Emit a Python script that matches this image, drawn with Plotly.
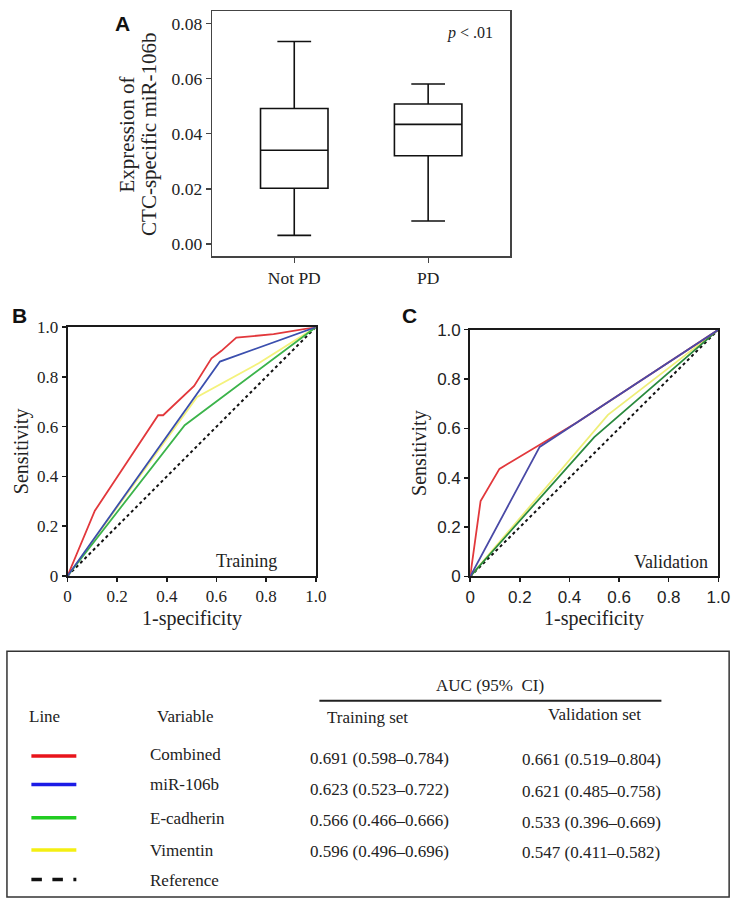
import plotly.graph_objects as go

# ---------------- data ----------------
box_categories = ["Not PD", "PD"]
box_lower = [0.0031, 0.0083]
box_q1 = [0.0202, 0.0320]
box_median = [0.0340, 0.0434]
box_q3 = [0.0492, 0.0508]
box_upper = [0.0735, 0.0581]
box_yticks = [0.00, 0.02, 0.04, 0.06, 0.08]

roc_ticks = [0, 0.2, 0.4, 0.6, 0.8, 1.0]
roc_ticktext = ["0", "0.2", "0.4", "0.6", "0.8", "1.0"]

train_combined_x = [0, 0.105, 0.11, 0.365, 0.385, 0.51, 0.58, 0.62, 0.68, 0.83, 1.0]
train_combined_y = [0, 0.243, 0.262, 0.646, 0.646, 0.764, 0.875, 0.905, 0.958, 0.972, 1.0]
train_mir_x = [0, 0.614, 1.0]
train_mir_y = [0, 0.862, 1.0]
train_ecad_x = [0, 0.472, 1.0]
train_ecad_y = [0, 0.606, 1.0]
train_vim_x = [0, 0.522, 0.77, 1.0]
train_vim_y = [0, 0.72, 0.855, 1.0]

val_combined_x = [0, 0.042, 0.118, 0.43, 1.0]
val_combined_y = [0, 0.306, 0.436, 0.624, 1.0]
val_mir_x = [0, 0.28, 1.0]
val_mir_y = [0, 0.525, 1.0]
val_ecad_x = [0, 0.5, 1.0]
val_ecad_y = [0, 0.565, 1.0]
val_vim_x = [0, 0.475, 0.555, 1.0]
val_vim_y = [0, 0.56, 0.655, 1.0]

ref_x = [0, 1]
ref_y = [0, 1]

table_variables = ["Combined", "miR-106b", "E-cadherin", "Vimentin", "Reference"]
table_training = ["0.691 (0.598\u20130.784)", "0.623 (0.523\u20130.722)",
                  "0.566 (0.466\u20130.666)", "0.596 (0.496\u20130.696)"]
table_validation = ["0.661 (0.519\u20130.804)", "0.621 (0.485\u20130.758)",
                    "0.533 (0.396\u20130.669)", "0.547 (0.411\u20130.582)"]

# ---------------- layout helpers ----------------
W, H = 747, 910
SERIF = "Liberation Serif"
SANS = "Liberation Sans"


def px(x):
    return x / W


def py(y):
    return 1 - y / H


fig = go.Figure()

# ---------------- Panel A ----------------
fig.add_trace(go.Box(
    x=box_categories, q1=box_q1, median=box_median, q3=box_q3,
    lowerfence=box_lower, upperfence=box_upper,
    width=0.504, whiskerwidth=0.5, boxpoints=False,
    fillcolor="white", line=dict(color="#111", width=1.6),
    xaxis="x", yaxis="y", showlegend=False, hoverinfo="skip"))

# ---------------- Panels B / C ----------------
train_colors = {"ref": "#111", "vim": "#f4f27c", "ecad": "#3cb44b",
                "comb": "#e2383c", "mir": "#3b4fae"}
val_colors = {"ref": "#111", "vim": "#eeee78", "ecad": "#2a8a3e",
              "comb": "#e2383c", "mir": "#4a4aa6"}


def add_roc(xa, ya, series, colors):
    order = ["ref", "vim", "ecad", "comb", "mir"]
    for key in order:
        xs, ys = series[key]
        if key == "ref":
            line = dict(color=colors[key], width=2, dash="dot")
        else:
            line = dict(color=colors[key], width=1.8)
        fig.add_trace(go.Scatter(x=xs, y=ys, mode="lines", line=line,
                                 xaxis=xa, yaxis=ya, showlegend=False,
                                 hoverinfo="skip"))


add_roc("x2", "y2", {"ref": (ref_x, ref_y), "vim": (train_vim_x, train_vim_y),
                     "ecad": (train_ecad_x, train_ecad_y),
                     "comb": (train_combined_x, train_combined_y),
                     "mir": (train_mir_x, train_mir_y)}, train_colors)
add_roc("x3", "y3", {"ref": (ref_x, ref_y), "vim": (val_vim_x, val_vim_y),
                     "ecad": (val_ecad_x, val_ecad_y),
                     "comb": (val_combined_x, val_combined_y),
                     "mir": (val_mir_x, val_mir_y)}, val_colors)

frameA = dict(showline=True, mirror=True, linecolor="#444", linewidth=1.5,
              showgrid=False, zeroline=False, ticks="outside", ticklen=5,
              tickwidth=1.3, tickcolor="#444")
frameR = dict(showline=True, mirror=True, linecolor="#1a1a1a", linewidth=2,
              showgrid=False, zeroline=False, ticks="outside", ticklen=4,
              tickwidth=1.5, tickcolor="#1a1a1a")

fig.update_layout(
    width=W, height=H, autosize=False,
    margin=dict(l=0, r=0, t=0, b=0, pad=0),
    paper_bgcolor="white", plot_bgcolor="white",
    font=dict(family=SERIF, color="#222"),
    showlegend=False,
    xaxis=dict(domain=[px(212), px(517)], anchor="y", type="category",
               range=[-0.613, 1.613],
               tickfont=dict(family=SERIF, size=17.5, color="#222"), **frameA),
    yaxis=dict(domain=[py(252.3), py(2.3)], anchor="x", range=[-0.0044, 0.0845],
               tickvals=box_yticks, tickformat=".2f",
               tickfont=dict(family=SERIF, size=17.5, color="#222"), **frameA),
    xaxis2=dict(domain=[px(64), px(318)], anchor="y2", range=[0, 1],
                tickvals=roc_ticks, ticktext=roc_ticktext,
                tickfont=dict(family=SERIF, size=17, color="#222"), **frameR),
    yaxis2=dict(domain=[py(579), py(325)], anchor="x2", range=[0, 1],
                tickvals=roc_ticks, ticktext=roc_ticktext,
                tickfont=dict(family=SERIF, size=17, color="#222"), **frameR),
    xaxis3=dict(domain=[px(476), px(730)], anchor="y3", range=[0, 1],
                tickvals=roc_ticks, ticktext=roc_ticktext,
                tickfont=dict(family=SANS, size=17, color="#222"), **frameR),
    yaxis3=dict(domain=[py(579.6), py(327.5)], anchor="x3", range=[0, 1],
                tickvals=roc_ticks, ticktext=roc_ticktext,
                tickfont=dict(family=SANS, size=17, color="#222"), **frameR),
)

ann = []


def text(x, y, s, size, family=SERIF, xanchor="center", angle=0, color="#222"):
    ann.append(dict(x=px(x), y=py(y), xref="paper", yref="paper", text=s,
                    showarrow=False, xanchor=xanchor, yanchor="middle",
                    textangle=angle, font=dict(family=family, size=size, color=color)))


# panel letters
text(120.5, 14.5, "<b>A</b>", 21, SANS, color="#111")
text(14.5, 313.5, "<b>B</b>", 21, SANS, color="#111")
text(413.5, 313.5, "<b>C</b>", 21, SANS, color="#111")

# panel A titles
text(125, 128, "Expression of", 21, angle=-90)
text(148, 128, "CTC-specific miR-106b", 21, angle=-90)
text(476, 25, "<i>p</i> < .01", 16)

# panel B/C titles
text(17, 452, "Sensitivity", 20, angle=-90)
text(191, 622, "1-specificity", 20)
text(247.5, 563.5, "Training", 18)
text(424, 453, "Sensitivity", 20, angle=-90)
text(603, 622, "1-specificity", 20)
text(681, 565, "Validation", 18)

# ---------------- table ----------------
shapes = []
shapes.append(dict(type="rect", xref="paper", yref="paper",
                   x0=px(2), x1=px(741), y0=py(907), y1=py(656),
                   line=dict(color="#333", width=1.5)))
shapes.append(dict(type="line", xref="paper", yref="paper",
                   x0=px(321.7), x1=px(671.7), y0=py(706.5), y1=py(706.5),
                   line=dict(color="#222", width=1.8)))

text(496, 691, "AUC (95%  CI)", 17)
text(40.5, 723, "Line", 17)
text(185, 723, "Variable", 17)
text(371, 724, "Training set", 17)
text(603, 721, "Validation set", 17)

legend_colors = ["#e8141b", "#1c1ce6", "#22cc22", "#f4ef12", "#111"]
legend_y = [763, 792, 826, 859, 889]
var_y = [761, 792.5, 827, 859.5, 890]
train_y = [765, 797, 828.5, 860]
val_y = [766.5, 799.5, 830.5, 861.5]

for i, name in enumerate(table_variables):
    dash = "dash" if i == 4 else "solid"
    shapes.append(dict(type="line", xref="paper", yref="paper",
                       x0=px(27), x1=px(73), y0=py(legend_y[i]), y1=py(legend_y[i]),
                       line=dict(color=legend_colors[i], width=3.5, dash=dash)))
    text(146, var_y[i], name, 17, xanchor="left")
for i, v in enumerate(table_training):
    text(310, train_y[i], v, 17, xanchor="left")
for i, v in enumerate(table_validation):
    text(527, val_y[i], v, 17, xanchor="left")

fig.update_layout(annotations=ann, shapes=shapes)

fig.write_html("out.html",
               config={"displayModeBar": False, "staticPlot": True},
               post_script="document.body.style.margin='0';"
                           "document.body.style.padding='0';"
                           "document.body.style.overflow='hidden';"
                           "document.documentElement.style.overflow='hidden';")
